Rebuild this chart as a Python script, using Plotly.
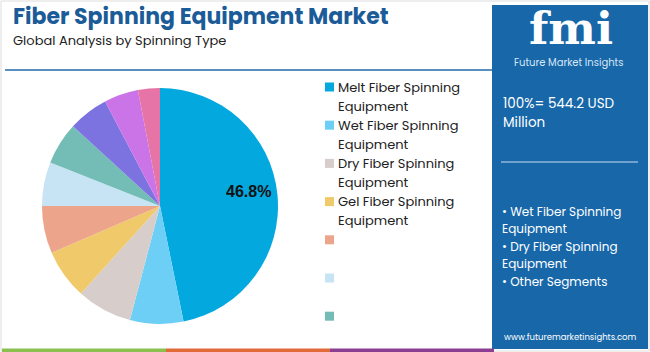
import math
import plotly.graph_objects as go

W, H = 650, 352

# ---- data ----
segments = [
    "Melt Fiber Spinning Equipment",
    "Wet Fiber Spinning Equipment",
    "Dry Fiber Spinning Equipment",
    "Gel Fiber Spinning Equipment",
    "Segment 5", "Segment 6", "Segment 7", "Segment 8", "Segment 9", "Segment 10",
]
shares = [46.8, 7.3, 7.6, 6.8, 6.5, 6.0, 5.8, 5.5, 4.7, 3.0]
slice_colors = ["#03a8df", "#6dcff5", "#d7cdca", "#f0c96b", "#eca48b",
                "#c6e4f4", "#73bdb6", "#7c73e1", "#ca74e7", "#e674a7"]
legend_labels = [["Melt Fiber Spinning", "Equipment"], ["Wet Fiber Spinning", "Equipment"],
                 ["Dry Fiber Spinning", "Equipment"], ["Gel Fiber Spinning", "Equipment"],
                 [], [], []]
title_text = "Fiber Spinning Equipment Market"
subtitle_text = "Global Analysis by Spinning Type"
total_text = ["100%= 544.2 USD", "Million"]
other_text = ["• Wet Fiber Spinning", "Equipment", "• Dry Fiber Spinning", "Equipment", "• Other Segments"]
site_text = "www.futuremarketinsights.com"

FONT = "Poppins, Open Sans, sans-serif"


def px(x):
    return x / W


def py(y):
    return 1 - y / H


# pie geometry: centre (160,206), radius 118
cx, cy, r = 160, 206, 118

fig = go.Figure()
fig.add_trace(go.Pie(
    labels=segments, values=shares, sort=False, direction="clockwise", rotation=0,
    marker=dict(colors=slice_colors, line=dict(width=0)),
    textinfo="none",
    hoverinfo="label+percent",
    domain=dict(x=[px(cx - r), px(cx + r)], y=[py(cy + r), py(cy - r)]),
    showlegend=False,
))

shapes = []
ann = []

# label of the largest slice, placed at its mid-angle
mid = 2 * math.pi * (shares[0] / 2) / sum(shares)
lx = cx + 0.75 * r * math.sin(mid)
ly = cy - 0.75 * r * math.cos(mid) - 6
ann.append(dict(text=f"<b>{shares[0]}%</b>", x=px(lx), y=py(ly), xanchor="center", yanchor="middle",
                font=dict(family="Arial, Liberation Sans, sans-serif", size=16, color="#111111")))

# outer border
shapes.append(dict(type="rect", xref="paper", yref="paper", x0=px(1), x1=px(649), y0=py(351), y1=py(1),
                   line=dict(color="#dddddd", width=1), fillcolor="rgba(0,0,0,0)"))
# title underline
shapes.append(dict(type="line", xref="paper", yref="paper", x0=px(5), x1=px(492), y0=py(70), y1=py(70),
                   line=dict(color="#5a8fc2", width=2)))
# right panel
shapes.append(dict(type="rect", xref="paper", yref="paper", x0=px(492), x1=px(648), y0=py(349), y1=py(5),
                   line=dict(width=0), fillcolor="#1767a9", layer="below"))
# separator in panel
shapes.append(dict(type="line", xref="paper", yref="paper", x0=px(501), x1=px(638), y0=py(162), y1=py(162),
                   line=dict(color="#8fb6dc", width=1.5)))
# bottom colour strips
for x0, x1, c in [(2, 166, "#8bc051"), (166, 330, "#e06b38"), (330, 494, "#8a3f93")]:
    shapes.append(dict(type="rect", xref="paper", yref="paper", x0=px(x0), x1=px(x1), y0=py(352), y1=py(348.5),
                       line=dict(width=0), fillcolor=c))

# title and subtitle
ann.append(dict(text=f"<b>{title_text}</b>", x=px(11), y=py(16.5), xanchor="left", yanchor="middle",
                height=27, font=dict(family=FONT, size=22, color="#1b5c98")))
ann.append(dict(text=subtitle_text, x=px(11), y=py(40.5), xanchor="left", yanchor="middle",
                height=16, font=dict(family=FONT, size=13, color="#222222")))

# legend
for i, lines in enumerate(legend_labels):
    yc = 87 + 38.2 * i
    shapes.append(dict(type="rect", xref="paper", yref="paper", x0=px(325), x1=px(334),
                       y0=py(yc + 4.5), y1=py(yc - 4.5), line=dict(width=0), fillcolor=slice_colors[i]))
    for j, t in enumerate(lines):
        ann.append(dict(text=t, x=px(336), y=py(yc + 19 * j), xanchor="left", yanchor="middle",
                        font=dict(family=FONT, size=13, color="#222222")))

# logo
ann.append(dict(text="<b>fmi</b>", x=px(571), y=py(28.5), xanchor="center", yanchor="middle",
                font=dict(family="DejaVu Serif, serif", size=45, color="white")))
ann.append(dict(text="Future Market Insights", x=px(568), y=py(63), xanchor="center", yanchor="middle",
                font=dict(family=FONT, size=10, color="#d8e6f4")))

# panel texts
for j, t in enumerate(total_text):
    ann.append(dict(text=t, x=px(501), y=py(103 + 20 * j), xanchor="left", yanchor="middle",
                    font=dict(family=FONT, size=13.5, color="white")))
for i, t in enumerate(other_text):
    ann.append(dict(text=t, x=px(500), y=py(211 + 17.5 * i), xanchor="left", yanchor="middle",
                    font=dict(family=FONT, size=12, color="white")))
ann.append(dict(text=site_text, x=px(570), y=py(337), xanchor="center", yanchor="middle",
                font=dict(family=FONT, size=8.5, color="white")))

for a in ann:
    a.update(xref="paper", yref="paper", showarrow=False)

fig.update_layout(width=W, height=H, margin=dict(l=0, r=0, t=0, b=0),
                  paper_bgcolor="white", plot_bgcolor="white",
                  shapes=shapes, annotations=ann)

fig.write_html("out.html")
